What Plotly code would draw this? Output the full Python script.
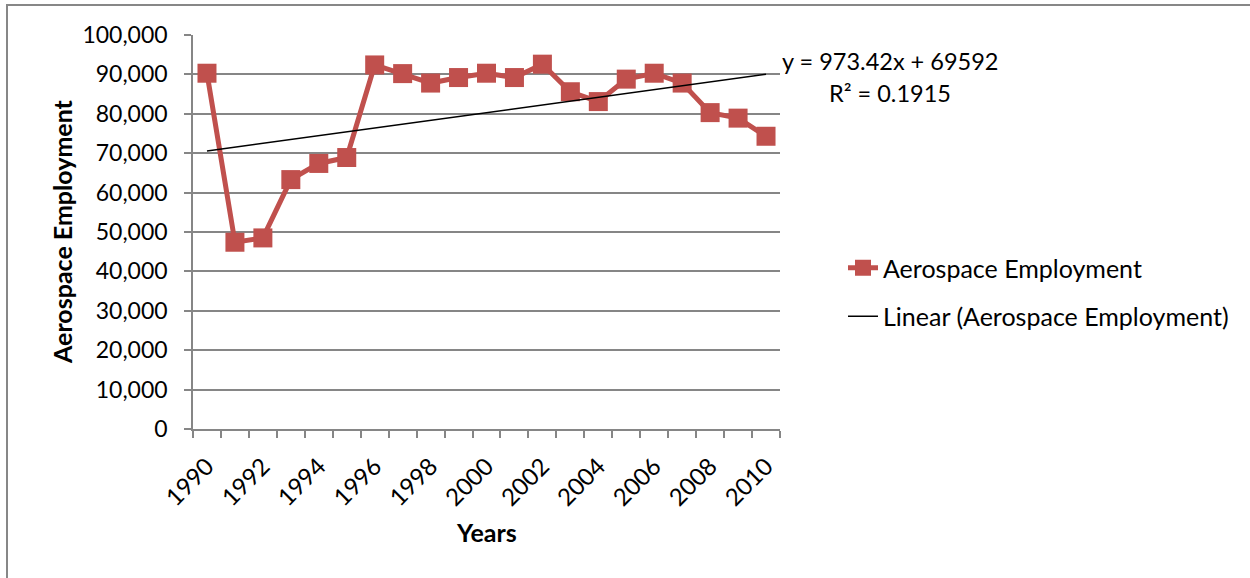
import plotly.graph_objects as go

# ---- data ----
years = [1990, 1991, 1992, 1993, 1994, 1995, 1996, 1997, 1998, 1999, 2000,
         2001, 2002, 2003, 2004, 2005, 2006, 2007, 2008, 2009, 2010]
employment = [90300, 47400, 48500, 63300, 67400, 68900, 92400, 90200, 87800, 89200, 90300,
              89200, 92600, 85600, 83100, 88800, 90300, 87800, 80300, 78900, 74300]
trend_slope = 973.42
trend_intercept = 69592
trend_r2 = 0.1915
x_tick_years = years[::2]
series_name = "Aerospace Employment"
trend_name = "Linear (Aerospace Employment)"

# trend line (Excel linear trendline, x = 1..n)
trend = [trend_slope * (i + 1) + trend_intercept for i in range(len(years))]

FONT = "Lato"
RED = "#C0504D"
GRAY = "#868686"

W, H = 1250, 578
L, R, T, B = 193, 780, 35, 429
pw, ph = R - L, B - T


def px(x):
    return (x - L) / pw


def py(y):
    return (B - y) / ph


fig = go.Figure()
fig.add_trace(go.Scatter(
    x=years, y=employment, name=series_name, mode="lines+markers",
    legendgroup="a",
    line=dict(color=RED, width=5),
    marker=dict(symbol="square", size=19, color=RED),
))
fig.add_trace(go.Scatter(
    x=years, y=trend, name=trend_name, mode="lines",
    legendgroup="b",
    line=dict(color="black", width=1.5),
))

fig.update_layout(
    width=W, height=H,
    margin=dict(l=L, r=W - R, t=T, b=H - B, pad=0),
    paper_bgcolor="white", plot_bgcolor="white",
    font=dict(family=FONT, size=23, color="black"),
    showlegend=True,
    legend=dict(x=px(843), y=py(245), xanchor="left", yanchor="top",
                font=dict(family=FONT, size=25, color="black"),
                tracegroupgap=13, itemwidth=30, bgcolor="rgba(0,0,0,0)"),
    xaxis=dict(
        range=[1989.5, 2010.5], tickmode="array", tickvals=x_tick_years,
        ticktext=[str(v) for v in x_tick_years], tickangle=-45,
        ticks="", showgrid=False, zeroline=False,
        showline=True, linecolor=GRAY, linewidth=1.5,
        tickfont=dict(family=FONT, size=24),
        ticklabelstandoff=12, ticklabelshift=0,
        minor=dict(tickmode="linear", tick0=1989.5, dtick=1, ticks="outside",
                   ticklen=7, tickcolor=GRAY, tickwidth=1.5, showgrid=False),
        fixedrange=True,
    ),
    yaxis=dict(
        range=[0, 100000], dtick=10000, tickformat=",d",
        ticks="outside", ticklen=7, tickcolor=GRAY, tickwidth=1.5,
        showgrid=True, gridcolor=GRAY, gridwidth=1.5, zeroline=False,
        showline=True, linecolor=GRAY, linewidth=1.5,
        tickfont=dict(family=FONT, size=23),
        ticklabelstandoff=12,
        fixedrange=True,
    ),
)

annotations = [
    dict(text="<b>Aerospace Employment</b>", x=px(62), y=py(232), xref="paper", yref="paper",
         textangle=-90, showarrow=False, xanchor="center", yanchor="middle",
         font=dict(family=FONT, size=25)),
    dict(text="<b>Years</b>", x=px(487), y=py(532), xref="paper", yref="paper",
         showarrow=False, xanchor="center", yanchor="middle",
         font=dict(family=FONT, size=25)),
    dict(text=f"y = {trend_slope}x + {trend_intercept}", x=px(780), y=py(61), xref="paper", yref="paper",
         showarrow=False, xanchor="left", yanchor="middle",
         font=dict(family=FONT, size=23.5)),
    dict(text=f"R² = {trend_r2}", x=px(827), y=py(93), xref="paper", yref="paper",
         showarrow=False, xanchor="left", yanchor="middle",
         font=dict(family=FONT, size=23.5)),
]
fig.update_layout(annotations=annotations)

# outer chart border (top and left visible)
fig.add_shape(type="rect", xref="paper", yref="paper",
              x0=px(7), x1=px(1260), y0=py(5), y1=py(590),
              line=dict(color="#878787", width=2), fillcolor="rgba(0,0,0,0)", layer="above")

fig.write_html("out.html")
